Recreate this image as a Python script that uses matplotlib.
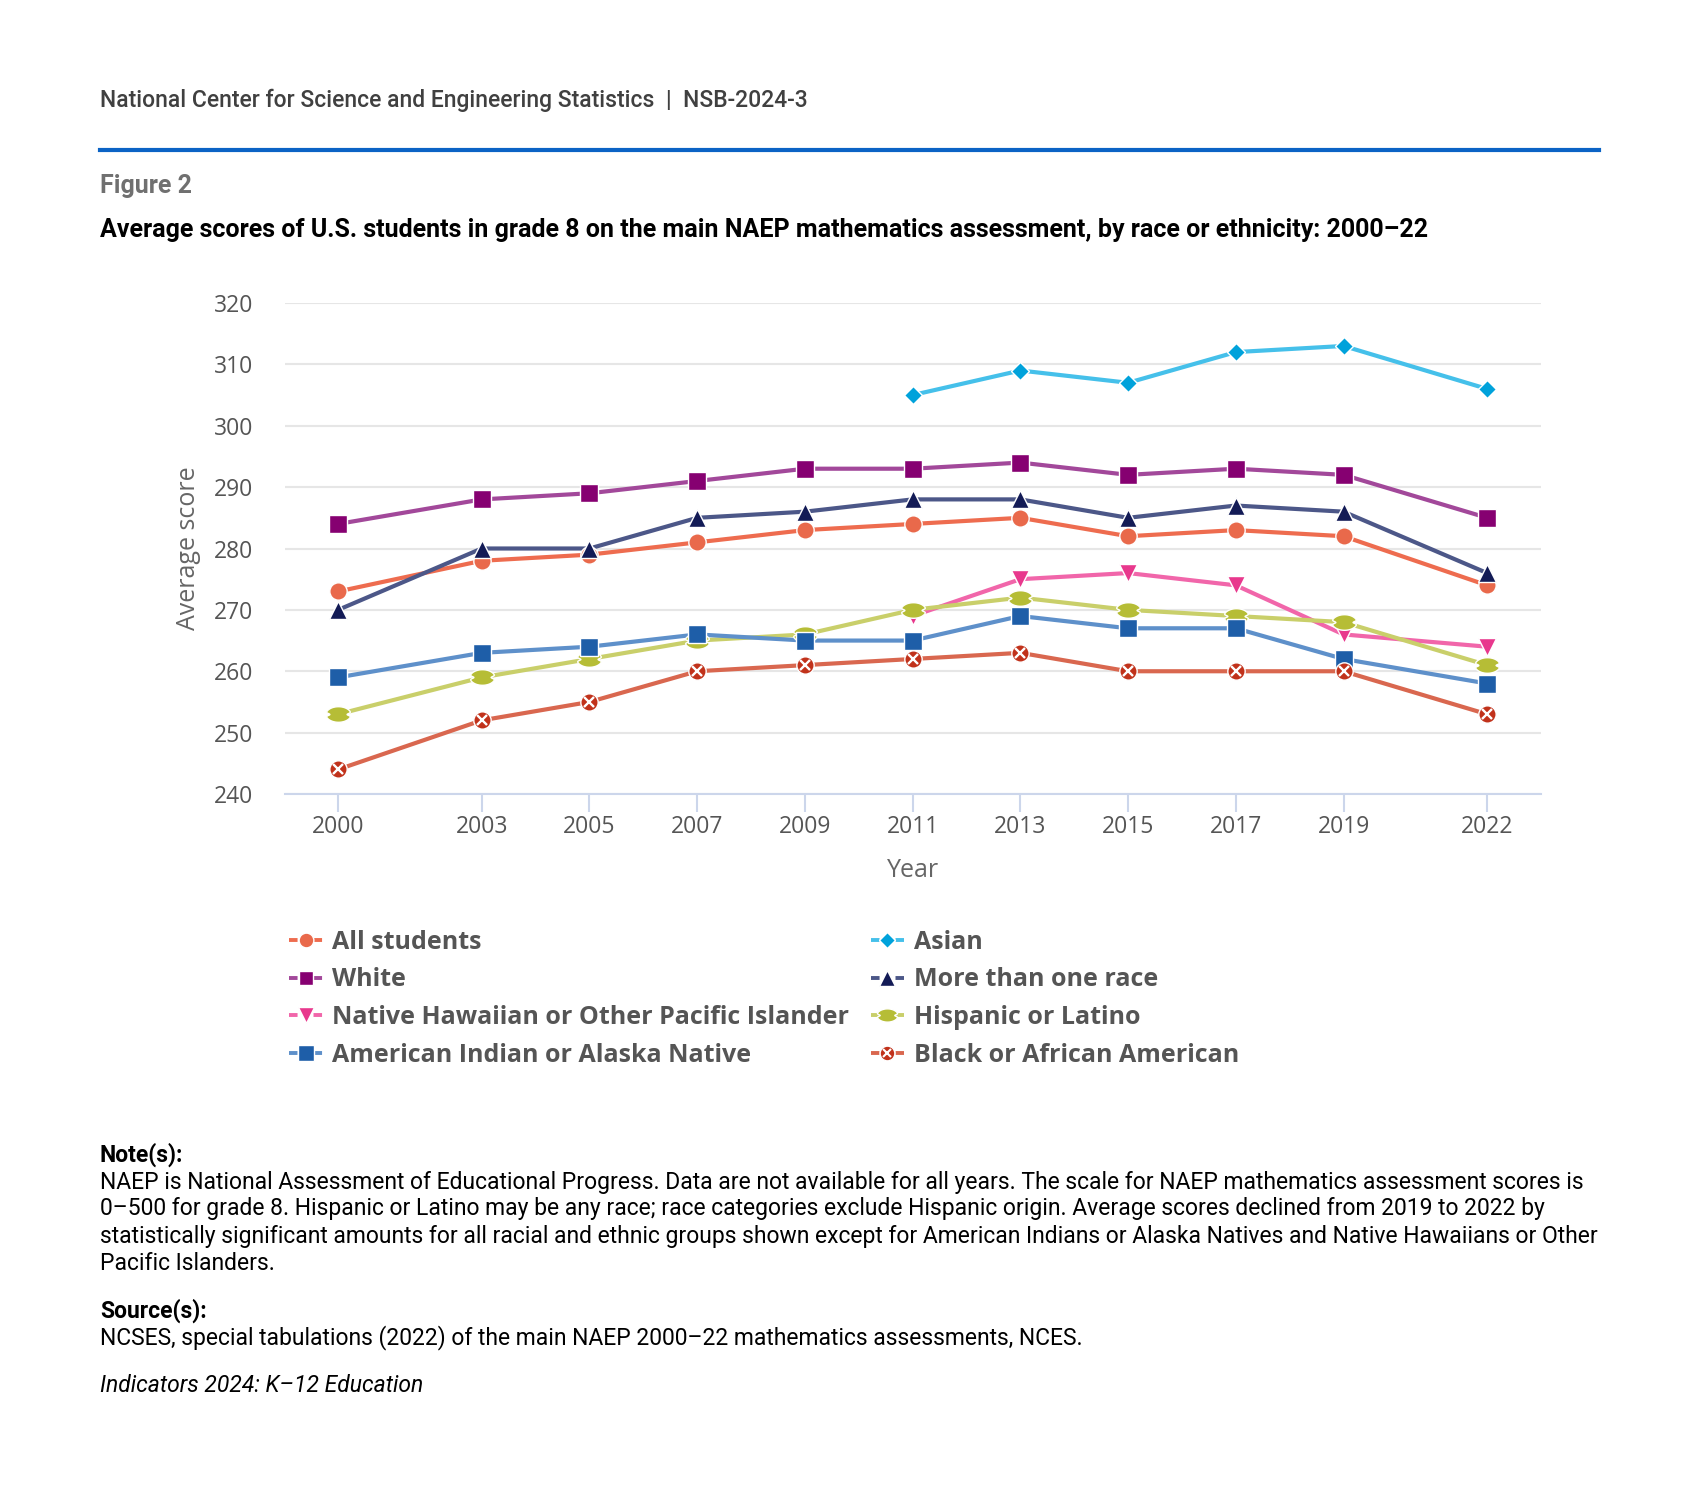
import numpy as np
import matplotlib
matplotlib.use('Agg')
import matplotlib.pyplot as plt
from matplotlib.lines import Line2D
from matplotlib.path import Path
from matplotlib.font_manager import FontProperties

# データ（NAEP 8年生 数学 平均点）
years = [2000, 2003, 2005, 2007, 2009, 2011, 2013, 2015, 2017, 2019, 2022]
nan = np.nan
all_students = [273, 278, 279, 281, 283, 284, 285, 282, 283, 282, 274]
asian = [nan, nan, nan, nan, nan, 305, 309, 307, 312, 313, 306]
white = [284, 288, 289, 291, 293, 293, 294, 292, 293, 292, 285]
more_races = [270, 280, 280, 285, 286, 288, 288, 285, 287, 286, 276]
nhpi = [nan, nan, nan, nan, nan, 269, 275, 276, 274, 266, 264]
hispanic = [253, 259, 262, 265, 266, 270, 272, 270, 269, 268, 261]
aian = [259, 263, 264, 266, 265, 265, 269, 267, 267, 262, 258]
black = [244, 252, 255, 260, 261, 262, 263, 260, 260, 260, 253]
y_ticks = [240, 250, 260, 270, 280, 290, 300, 310, 320]

note_lines = [
    'NAEP is National Assessment of Educational Progress. Data are not available for all years. The scale for NAEP mathematics assessment scores is',
    '0\u2013500 for grade 8. Hispanic or Latino may be any race; race categories exclude Hispanic origin. Average scores declined from 2019 to 2022 by',
    'statistically significant amounts for all racial and ethnic groups shown except for American Indians or Alaska Natives and Native Hawaiians or Other',
    'Pacific Islanders.',
]
source_line = 'NCSES, special tabulations (2022) of the main NAEP 2000\u201322 mathematics assessments, NCES.'

W, H = 1699, 1504
def fx(px):
    return px / W
def fy(py):
    return 1 - py / H

# Hispanic用の独自マーカー（左右がくびれた楕円）
t = np.linspace(0, 2 * np.pi, 120)
hx = np.cos(t) * (1 - 0.32 * np.exp(-np.sin(t) ** 2 / 0.03))
hy = 0.62 * np.sin(t)
hisp_marker = Path(np.column_stack([hx, hy]), closed=True)

# 系列: ラベル, 値, 線色, マーカー色, マーカー, サイズ
series = [
    ('All students', all_students, '#EE6C4F', '#E9694B', 'o', 12.5),
    ('Asian', asian, '#45C0EA', '#00A2DB', 'D', 9.5),
    ('White', white, '#A2489A', '#860071', 's', 12.5),
    ('More than one race', more_races, '#4C5788', '#131B56', '^', 13),
    ('Native Hawaiian or Other Pacific Islander', nhpi, '#F166AA', '#E8388D', 'v', 13),
    ('Hispanic or Latino', hispanic, '#C9CF6A', '#B6BD36', hisp_marker, 17),
    ('American Indian or Alaska Native', aian, '#5E90CA', '#1E5EA8', 's', 13.5),
    ('Black or African American', black, '#D9674F', '#C1321B', 'o', 12.5),
]

# 調査1回ごとに1枠 + 1年ごとに1枠の間隔
xpos = [y - years[0] + i for i, y in enumerate(years)]

fig = plt.figure(figsize=(W / 100, H / 100), dpi=100)
ax = fig.add_axes([fx(285), fy(794), fx(1541) - fx(285), fy(303) - fy(794)])

handles = {}
for label, vals, lc, mc, mk, ms in series:
    ax.plot(xpos, vals, color=lc, lw=3, zorder=3, solid_capstyle='round')
    ax.plot(xpos, vals, ls='none', marker=mk, ms=ms, mfc=mc, mec='white', mew=1.0, zorder=4)
    h = Line2D([], [], color=lc, lw=2.8, ls=(0, (2.2, 4.1)), marker=mk, ms=ms * 0.85,
               mfc=mc, mec='white', mew=1.0)
    if label.startswith('Black'):
        ax.plot(xpos, vals, ls='none', marker='x', ms=7, mec='white', mew=1.7, zorder=5)
        hx_ = Line2D([], [], ls='none', marker='x', ms=6, mec='white', mew=1.5)
        h = (h, hx_)
    handles[label] = h

ax.set_xlim(-1.48, 33.5)
ax.set_ylim(240, 320)
ax.set_yticks(y_ticks)
ax.set_xticks(xpos)
ax.set_xticklabels([str(y) for y in years])
ax.grid(axis='y', color='#E6E6E6', lw=1.5, zorder=0)
for s in ['top', 'right', 'left']:
    ax.spines[s].set_visible(False)
ax.spines['bottom'].set_color('#CCD6EB')
ax.spines['bottom'].set_linewidth(1.5)
ax.tick_params(axis='y', length=0, pad=23, labelsize=16.5, labelcolor='#555555')
ax.tick_params(axis='x', length=13, width=1.5, color='#CCD6EB', pad=2,
               labelsize=16.5, labelcolor='#555555')
for lab in ax.get_xticklabels() + ax.get_yticklabels():
    lab.set_family('Open Sans')

ax.set_ylabel('Average score', fontsize=18, color='#666666', family='Open Sans')
ax.yaxis.set_label_coords(-0.067, 0.5)
ax.set_xlabel('Year', fontsize=18, color='#666666', family='Open Sans')
ax.xaxis.set_label_coords(0.5, -0.130)

# 凡例（列ごとの並び）
order = ['All students', 'White', 'Native Hawaiian or Other Pacific Islander',
         'American Indian or Alaska Native', 'Asian', 'More than one race',
         'Hispanic or Latino', 'Black or African American']
leg = ax.legend([handles[k] for k in order], order, ncol=2, loc='upper left',
                bbox_to_anchor=(fx(289), fy(930)), bbox_transform=fig.transFigure,
                frameon=False, borderpad=0, borderaxespad=0, handlelength=1.35,
                handletextpad=0.38, columnspacing=0.85, labelspacing=0.5,
                prop=FontProperties(family='Open Sans', weight='bold', size=18))
for txt in leg.get_texts():
    txt.set_color('#555555')

# ヘッダー・タイトル
fig.text(fx(100), fy(100), 'National Center for Science and Engineering Statistics  |  NSB-2024-3',
         family='Roboto', fontweight='medium', fontsize=16.5, color='#404040', va='center')
fig.add_artist(Line2D([fx(100), fx(1599)], [fy(150), fy(150)], color='#0B63C5', lw=3))
fig.text(fx(100), fy(186), 'Figure 2', family='Roboto', fontweight='bold', fontsize=18,
         color='#707070', va='center')
fig.text(fx(100), fy(230),
         'Average scores of U.S. students in grade 8 on the main NAEP mathematics assessment, by race or ethnicity: 2000\u201322',
         family='Roboto', fontweight='bold', fontsize=18, color='black', va='center')

# 注記
fig.text(fx(100), fy(1155), 'Note(s):', family='Roboto', fontweight='bold', fontsize=16.5, va='center')
for i, line in enumerate(note_lines):
    fig.text(fx(100), fy(1182 + 27 * i), line, family='Roboto', fontsize=16.5, va='center')
fig.text(fx(100), fy(1311), 'Source(s):', family='Roboto', fontweight='bold', fontsize=16.5, va='center')
fig.text(fx(100), fy(1338), source_line, family='Roboto', fontsize=16.5, va='center')
fig.text(fx(100), fy(1386), 'Indicators 2024: K\u201312 Education', family='Roboto',
         fontstyle='italic', fontsize=16.5, va='center')

plt.savefig('out.png', dpi=100)
